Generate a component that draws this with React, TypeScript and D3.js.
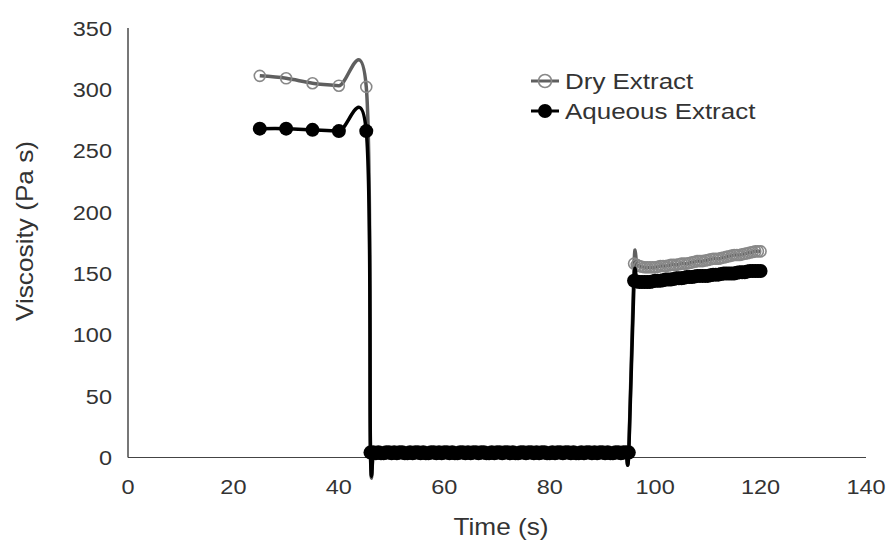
import React from 'react';
import * as d3 from 'd3';

// time (s) of the readings: hold step, rest step, recovery step
const timesHold = [25, 30, 35, 40, 45.2];
const timesRest = [
  46, 46.5, 47, 47.5, 48, 48.5, 49, 49.5, 50, 50.5,
  51, 51.5, 52, 52.5, 53, 53.5, 54, 54.5, 55, 55.5,
  56, 56.5, 57, 57.5, 58, 58.5, 59, 59.5, 60, 60.5,
  61, 61.5, 62, 62.5, 63, 63.5, 64, 64.5, 65, 65.5,
  66, 66.5, 67, 67.5, 68, 68.5, 69, 69.5, 70, 70.5,
  71, 71.5, 72, 72.5, 73, 73.5, 74, 74.5, 75, 75.5,
  76, 76.5, 77, 77.5, 78, 78.5, 79, 79.5, 80, 80.5,
  81, 81.5, 82, 82.5, 83, 83.5, 84, 84.5, 85, 85.5,
  86, 86.5, 87, 87.5, 88, 88.5, 89, 89.5, 90, 90.5,
  91, 91.5, 92, 92.5, 93, 93.5, 94, 94.5, 95,
];
const timesRecovery = [
  96, 96.5, 97, 97.5, 98, 98.5, 99, 99.5, 100, 100.5,
  101, 101.5, 102, 102.5, 103, 103.5, 104, 104.5, 105, 105.5,
  106, 106.5, 107, 107.5, 108, 108.5, 109, 109.5, 110, 110.5,
  111, 111.5, 112, 112.5, 113, 113.5, 114, 114.5, 115, 115.5,
  116, 116.5, 117, 117.5, 118, 118.5, 119, 119.5, 120,
];
const times = [...timesHold, ...timesRest, ...timesRecovery];

const dryHold = [311, 309, 305, 303, 302];
const dryRest = [
  5, 5, 4.5, 5, 4.5, 4.5, 5, 5, 4.5, 5,
  4.5, 5, 5, 4.5, 4.5, 5, 4.5, 5, 5, 4.5,
  5, 4.5, 4.5, 5, 5, 4.5, 5, 4.5, 5, 5,
  4.5, 5, 4.5, 4.5, 5, 5, 4.5, 5, 4.5, 5,
  5, 4.5, 5, 5, 4.5, 4.5, 5, 4.5, 5, 5,
  4.5, 5, 5, 4.5, 5, 4.5, 4.5, 5, 5, 4.5,
  5, 5, 4.5, 5, 4.5, 5, 5, 4.5, 4.5, 5,
  4.5, 5, 5, 4.5, 5, 5, 4.5, 5, 4.5, 4.5,
  5, 4.5, 5, 5, 4.5, 5, 4.5, 5, 5, 4.5,
  5, 4.5, 4.5, 5, 5, 4.5, 5, 5, 5,
];
const dryRecovery = [
  158, 157, 156, 155.5, 155, 155, 155, 155, 155, 155.5,
  156, 156, 156, 156.5, 157, 157, 157, 157.5, 158, 158,
  158, 158.5, 159, 159.5, 160, 160, 160, 160.5, 161, 161.5,
  162, 162, 162, 162.5, 163, 163.5, 164, 164.5, 165, 165,
  165, 165.5, 166, 166.5, 167, 167.5, 168, 168, 168,
];

const aqueousHold = [268, 268, 267, 266, 266];
const aqueousRest = [
  4, 4, 3.5, 4, 3.5, 3.5, 4, 4, 3.5, 4,
  3.5, 4, 4, 3.5, 3.5, 4, 3.5, 4, 4, 3.5,
  4, 3.5, 3.5, 4, 4, 3.5, 4, 3.5, 4, 4,
  3.5, 4, 3.5, 3.5, 4, 4, 3.5, 4, 3.5, 4,
  4, 3.5, 4, 4, 3.5, 3.5, 4, 3.5, 4, 4,
  3.5, 4, 4, 3.5, 4, 3.5, 3.5, 4, 4, 3.5,
  4, 4, 3.5, 4, 3.5, 4, 4, 3.5, 3.5, 4,
  3.5, 4, 4, 3.5, 4, 4, 3.5, 4, 3.5, 3.5,
  4, 3.5, 4, 4, 3.5, 4, 3.5, 4, 4, 3.5,
  4, 3.5, 3.5, 4, 4, 3.5, 4, 4, 4,
];
const aqueousRecovery = [
  144, 143.5, 143, 143, 143, 143, 143, 143.5, 144, 144,
  144, 144.5, 145, 145, 145, 145.5, 146, 146, 146, 146.5,
  147, 147, 147, 147.5, 148, 148, 148, 148, 148, 148.5,
  149, 149, 149, 149.5, 150, 150, 150, 150, 150, 150.5,
  151, 151, 151, 151.5, 152, 152, 152, 152, 152,
];

const dryExtract = [...dryHold, ...dryRest, ...dryRecovery];
const aqueousExtract = [...aqueousHold, ...aqueousRest, ...aqueousRecovery];

const xTicks = [0, 20, 40, 60, 80, 100, 120, 140];
const yTicks = [0, 50, 100, 150, 200, 250, 300, 350];
const seriesNames = ['Dry Extract', 'Aqueous Extract'];

const FONT = '"Liberation Sans", Arial, sans-serif';
const TXT = '#333';

const SText = ({ x, y, sx = 1.12, rot = 0, anchor = 'start', size = 21, children }: any) => (
  <text
    transform={`translate(${x},${y}) rotate(${rot}) scale(${sx},1)`}
    textAnchor={anchor}
    fontFamily={FONT}
    fontSize={size}
    fill={TXT}
  >
    {children}
  </text>
);

export default function App() {
  const width = 891;
  const height = 542;

  const x = d3.scaleLinear().domain([0, 140]).range([128, 866]);
  const y = d3.scaleLinear().domain([0, 350]).range([457.5, 28]);

  // Excel-like smoothed line: uniform Catmull-Rom through the readings
  const line = d3
    .line<number>()
    .x((_, i) => x(times[i]))
    .y((d) => y(d))
    .curve(d3.curveCatmullRom.alpha(0));

  return (
    <svg width={width} height={height} style={{ position: 'absolute', left: 0, top: 0, background: '#fff' }}>
      {/* axes */}
      <line x1={x(0)} x2={x(0)} y1={y(350)} y2={y(0)} stroke="#555" strokeWidth={1.6} />
      <line x1={x(0)} x2={x(140)} y1={y(0)} y2={y(0)} stroke="#444" strokeWidth={1.2} />

      {yTicks.map((t) => (
        <SText key={'y' + t} x={112} y={y(t) + 7.5} anchor="end">{t}</SText>
      ))}
      {xTicks.map((t) => (
        <SText key={'x' + t} x={x(t)} y={494} anchor="middle">{t}</SText>
      ))}

      <SText x={501} y={535} anchor="middle" size={23} sx={1.14}>Time (s)</SText>
      <SText x={33} y={231} anchor="middle" size={23} sx={1.14} rot={-90}>Viscosity (Pa s)</SText>

      {/* dry extract */}
      <path d={line(dryExtract) || ''} fill="none" stroke="#5f5f5f" strokeWidth={3.5} />
      {dryExtract.map((d, i) => (
        <circle key={'d' + i} cx={x(times[i])} cy={y(d)} r={5.5} fill="none" stroke="#888" strokeWidth={1.6} />
      ))}

      {/* aqueous extract */}
      <path d={line(aqueousExtract) || ''} fill="none" stroke="#000" strokeWidth={3.5} />
      {aqueousExtract.map((d, i) => (
        <circle key={'a' + i} cx={x(times[i])} cy={y(d)} r={7} fill="#000" />
      ))}

      {/* legend */}
      <g>
        <line x1={531} x2={559} y1={81} y2={81} stroke="#5f5f5f" strokeWidth={3} />
        <circle cx={545} cy={81} r={6.5} fill="none" stroke="#888" strokeWidth={1.6} />
        <SText x={565} y={89} size={22} sx={1.18}>{seriesNames[0]}</SText>
        <line x1={531} x2={559} y1={111} y2={111} stroke="#000" strokeWidth={3} />
        <circle cx={545} cy={111} r={7} fill="#000" />
        <SText x={565} y={119} size={22} sx={1.18}>{seriesNames[1]}</SText>
      </g>
    </svg>
  );
}
